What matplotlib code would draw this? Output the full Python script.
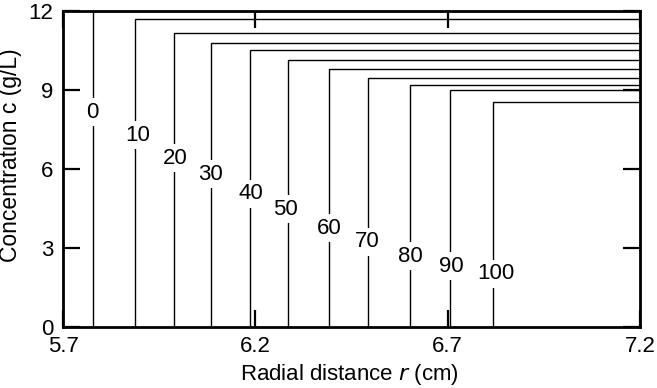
import matplotlib
matplotlib.use("Agg")
import matplotlib.pyplot as plt

plt.rcParams['font.family'] = ['Liberation Sans', 'DejaVu Sans']

times = [0, 10, 20, 30, 40, 50, 60, 70, 80, 90, 100]
boundary_r = [5.777, 5.888, 5.989, 6.085, 6.187, 6.284, 6.392, 6.492, 6.602, 6.707, 6.819]
plateau_c = [12.0, 11.68, 11.16, 10.80, 10.53, 10.15, 9.81, 9.46, 9.19, 8.98, 8.54]
label_r = [5.776, 5.893, 5.993, 6.084, 6.188, 6.278, 6.393, 6.492, 6.602, 6.710, 6.826]
label_c = [8.15, 7.28, 6.40, 5.79, 5.04, 4.46, 3.73, 3.23, 2.68, 2.30, 2.00]
r_max = 7.2

xticks = [5.7, 6.2, 6.7, 7.2]
yticks = [0, 3, 6, 9, 12]

fig = plt.figure(figsize=(6.57, 3.88), dpi=100)
ax = fig.add_axes([0.0959, 0.1585, 0.8782, 0.8131])

for rb, cp in zip(boundary_r, plateau_c):
    ax.plot([rb, rb, r_max], [0, cp, cp], color='black', lw=1.0, solid_joinstyle='miter', zorder=2)

for t, lr, lc in zip(times, label_r, label_c):
    ax.text(lr, lc, str(t), ha='center', va='center', fontsize=16,
            bbox=dict(facecolor='white', edgecolor='none', pad=2.5), zorder=3)

ax.set_xlim(5.7, 7.2)
ax.set_ylim(0, 12)
ax.set_xticks(xticks)
ax.set_xticklabels([f"{v:.1f}" for v in xticks])
ax.set_yticks(yticks)
ax.set_yticklabels([str(v) for v in yticks])
ax.tick_params(direction='in', length=12, width=1.6, top=True, right=True,
               labelsize=16, color='black')
ax.tick_params(axis='x', pad=7)
ax.tick_params(axis='y', pad=7)
for s in ax.spines.values():
    s.set_linewidth(2.0)
    s.set_zorder(4)

ax.set_xlabel(r"Radial distance $\it{r}$ (cm)", fontsize=16)
ax.set_ylabel("Concentration c (g/L)", fontsize=16.5)
ax.xaxis.set_label_coords(0.496, -0.112)
ax.yaxis.set_label_coords(-0.071, 0.544)

fig.savefig("out.png", dpi=100)
